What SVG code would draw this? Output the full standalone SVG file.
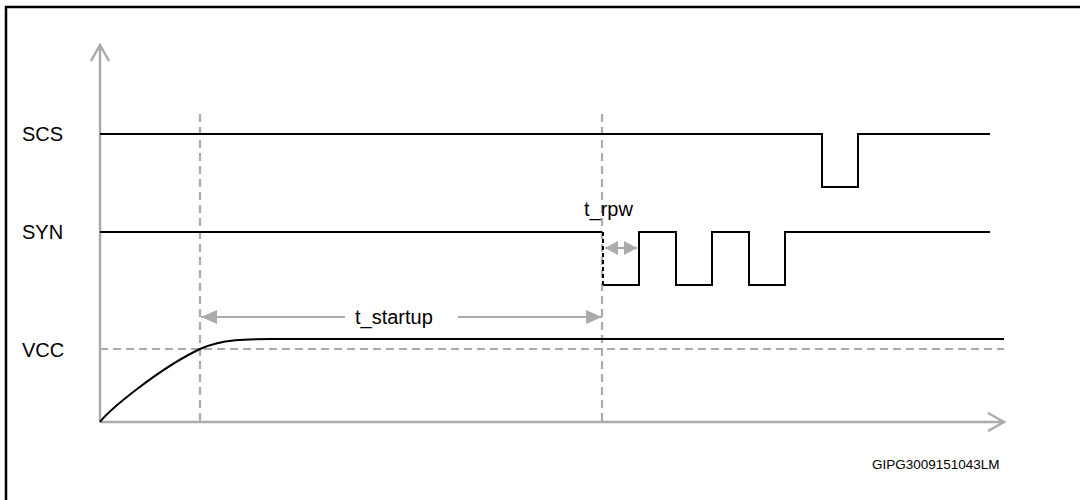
<svg xmlns="http://www.w3.org/2000/svg" width="1080" height="500" viewBox="0 0 1080 500">
<style>
.frame{fill:none;stroke:#000;stroke-width:2.5}
.axis{fill:none;stroke:#ababab;stroke-width:2.5}
.guide{fill:none;stroke:#ababab;stroke-width:2.2;stroke-dasharray:8 5}
.sig{fill:none;stroke:#000;stroke-width:2}
.dim{fill:none;stroke:#ababab;stroke-width:2.2}
.lbl{font-family:"Liberation Sans",Arial,sans-serif;font-size:20px;fill:#000}
.small{font-family:"Liberation Sans",Arial,sans-serif;font-size:13.5px;fill:#000}
</style>
<defs>
<marker id="ah" markerWidth="16" markerHeight="14" refX="16" refY="7" orient="auto-start-reverse" markerUnits="userSpaceOnUse">
<path d="M0,0 L16,7 L0,14 Z" fill="#ababab"/>
</marker>
<marker id="ahs" markerWidth="13" markerHeight="14" refX="13" refY="7" orient="auto-start-reverse" markerUnits="userSpaceOnUse">
<path d="M0,0 L13,7 L0,14 Z" fill="#ababab"/>
</marker>
</defs>
<rect width="1080" height="500" fill="#fff"/>
<path class="frame" d="M6,500 L6,7 L1080,7"/>
<g id="axes">
<path class="axis" d="M100,422 L100,45 M91,61 L100,45 L109,61"/>
<path class="axis" d="M100,422 L1004,422 M988,413 L1004,422 L988,431"/>
</g>
<g id="guides">
<path class="guide" d="M200,114 L200,422"/>
<path class="guide" d="M602,114 L602,422"/>
<path class="guide" d="M100,349 L1004,349"/>
</g>
<g id="scs">
<text class="lbl" x="22" y="141">SCS</text>
<path class="sig" d="M100,134 L822,134 L822,187 L858,187 L858,134 L990,134"/>
</g>
<g id="syn">
<text class="lbl" x="22" y="239">SYN</text>
<path class="sig" d="M100,232 L602,232"/>
<path class="sig" stroke-dasharray="4 3" d="M603,232 L603,285"/>
<path class="sig" d="M603,285 L639,285 L639,232 L676,232 L676,285 L712,285 L712,232 L749,232 L749,285 L785,285 L785,232 L990,232"/>
</g>
<g id="vcc">
<text class="lbl" x="22" y="357">VCC</text>
<path class="sig" d="M100,422 C110,409 160,368 200,349 C222,339 248,339 272,339 L1004,339"/>
</g>
<g id="connectors">
<path class="dim" marker-start="url(#ah)" d="M201,317 L345,317"/>
<path class="dim" marker-end="url(#ah)" d="M458,317 L602,317"/>
<path class="dim" stroke-width="3" marker-start="url(#ahs)" marker-end="url(#ahs)" d="M605,248 L637,248"/>
</g>
<g id="labels">
<text class="lbl" x="355" y="324">t_startup</text>
<text class="lbl" x="584" y="216">t_rpw</text>
<text class="small" x="872" y="469">GIPG3009151043LM</text>
</g>
</svg>
